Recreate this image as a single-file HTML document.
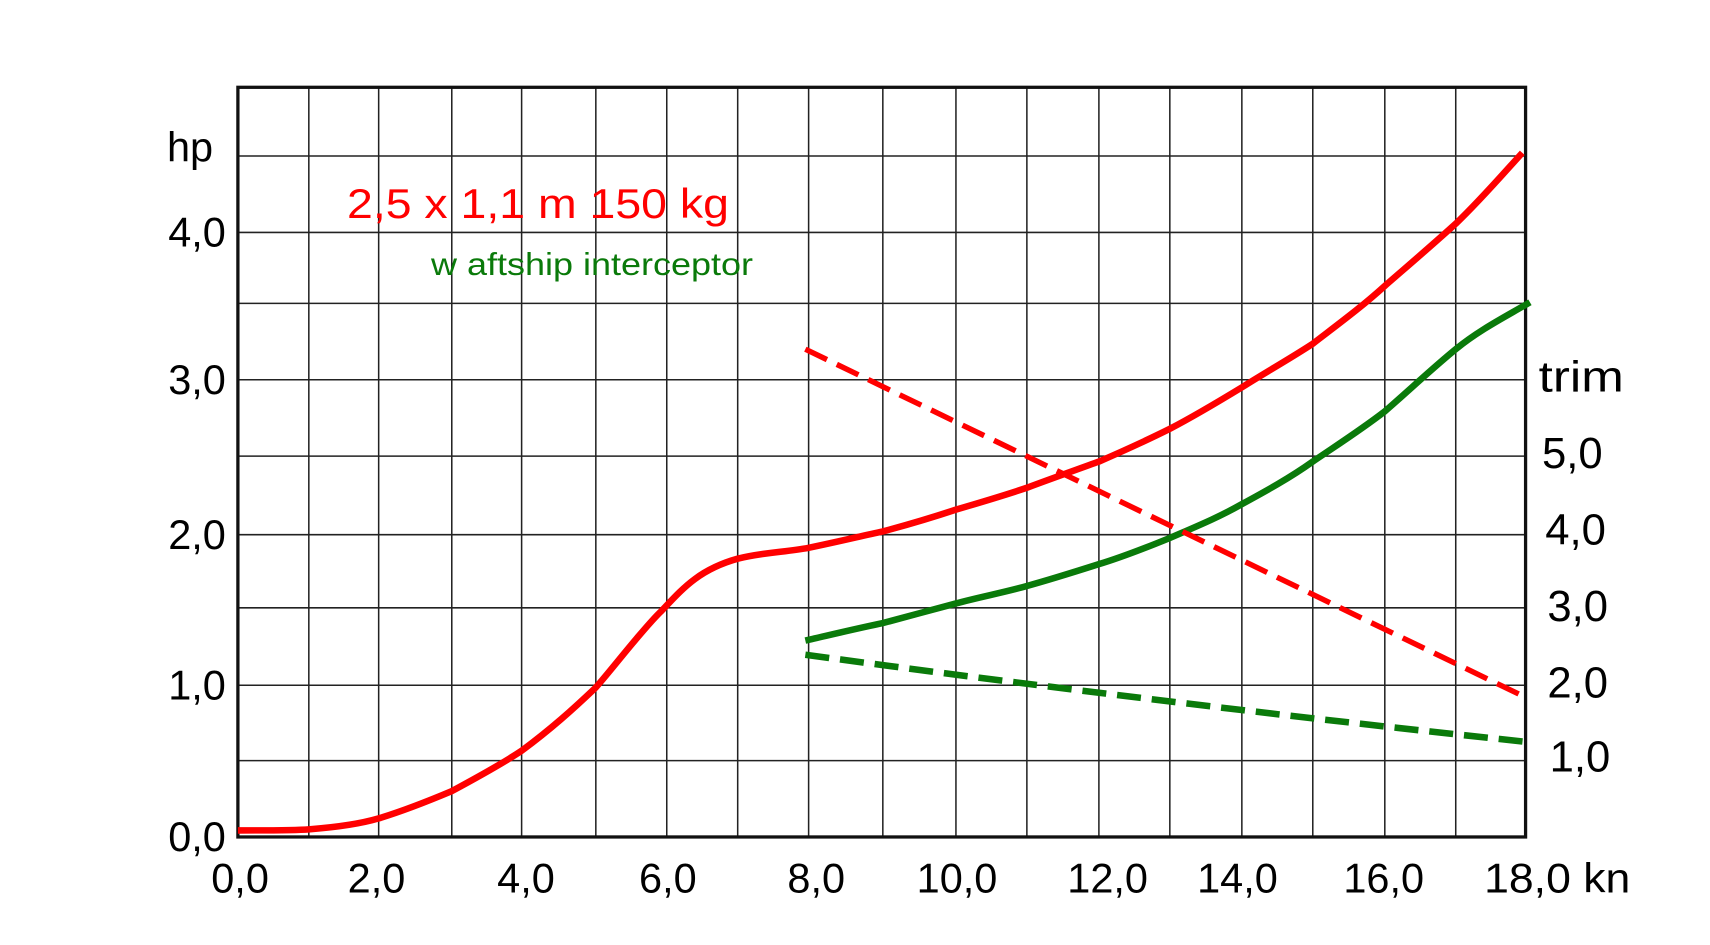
<!DOCTYPE html>
<html><head><meta charset="utf-8"><style>
html,body{margin:0;padding:0;background:#fff;}
svg{display:block}
text{font-family:"Liberation Sans",sans-serif;}
</style></head><body>
<svg width="1710" height="945" viewBox="0 0 1567 866" preserveAspectRatio="none">
<rect width="1567" height="866" fill="#fff"/>
<g stroke="#222" stroke-width="1.4">
<line x1="283" y1="80" x2="283" y2="767"/><line x1="347" y1="80" x2="347" y2="767"/>
<line x1="414" y1="80" x2="414" y2="767"/><line x1="478" y1="80" x2="478" y2="767"/>
<line x1="546" y1="80" x2="546" y2="767"/><line x1="611" y1="80" x2="611" y2="767"/>
<line x1="676" y1="80" x2="676" y2="767"/><line x1="741" y1="80" x2="741" y2="767"/>
<line x1="809" y1="80" x2="809" y2="767"/><line x1="876" y1="80" x2="876" y2="767"/>
<line x1="941" y1="80" x2="941" y2="767"/><line x1="1007" y1="80" x2="1007" y2="767"/>
<line x1="1072" y1="80" x2="1072" y2="767"/><line x1="1138" y1="80" x2="1138" y2="767"/>
<line x1="1203" y1="80" x2="1203" y2="767"/><line x1="1269" y1="80" x2="1269" y2="767"/>
<line x1="1334" y1="80" x2="1334" y2="767"/>
<line x1="218" y1="143" x2="1398" y2="143"/><line x1="218" y1="213" x2="1398" y2="213"/>
<line x1="218" y1="278" x2="1398" y2="278"/><line x1="218" y1="348" x2="1398" y2="348"/>
<line x1="218" y1="418" x2="1398" y2="418"/><line x1="218" y1="490" x2="1398" y2="490"/>
<line x1="218" y1="557" x2="1398" y2="557"/><line x1="218" y1="628" x2="1398" y2="628"/>
<line x1="218" y1="697" x2="1398" y2="697"/>
</g>
<rect x="218" y="80" width="1180" height="687" fill="none" stroke="#111" stroke-width="3"/>
<path d="M218,761 C250,761 270,761 283,760 C310,758 330,755 347,750 C370,743 395,733 414,725 C440,711 460,700 478,688 C505,668 525,650 546,630 C562,612 590,575 606,560 C625,540 640,522 676,512 C700,506 720,506 741,502 C770,496 790,491 809,487 C835,480 855,474 876,467 C900,460 920,454 941,447 C965,438 985,431 1007,423 C1030,413 1050,404 1072,393 C1095,381 1115,369 1138,355 C1160,341 1180,330 1203,315 C1225,298 1247,282 1269,262 C1292,242 1312,225 1334,205 C1356,184 1375,162 1395,140" fill="none" stroke="#f00" stroke-width="6"/>
<path d="M738,587 C760,582 785,576 809,571 C832,565 853,559 876,553 C898,547 920,543 941,537 C963,531 985,524 1007,517 C1030,510 1050,502 1072,493 C1095,483 1117,474 1138,462 C1160,450 1182,438 1203,423 C1225,408 1247,394 1269,377 C1292,357 1312,338 1334,320 C1356,302 1380,290 1402,277" fill="none" stroke="#0a7a0a" stroke-width="6"/>
<line x1="738" y1="320" x2="1400" y2="640" stroke="#f00" stroke-width="5" stroke-dasharray="22,10"/>
<path d="M738,600 Q1070,645 1400,680" fill="none" stroke="#0a7a0a" stroke-width="6" stroke-dasharray="22,10"/>
<g font-size="38" fill="#000">
<text x="153" y="148">hp</text>
<text x="207" y="226" text-anchor="end">4,0</text>
<text x="207" y="361" text-anchor="end">3,0</text>
<text x="207" y="503" text-anchor="end">2,0</text>
<text x="207" y="641" text-anchor="end">1,0</text>
<text x="207" y="780" text-anchor="end">0,0</text>
<text x="220" y="818" text-anchor="middle">0,0</text>
<text x="345" y="818" text-anchor="middle">2,0</text>
<text x="482" y="818" text-anchor="middle">4,0</text>
<text x="612" y="818" text-anchor="middle">6,0</text>
<text x="748" y="818" text-anchor="middle">8,0</text>
<text x="877" y="818" text-anchor="middle">10,0</text>
<text x="1015" y="818" text-anchor="middle">12,0</text>
<text x="1134" y="818" text-anchor="middle">14,0</text>
<text x="1268" y="818" text-anchor="middle">16,0</text>
<text x="1360" y="818" textLength="134" lengthAdjust="spacingAndGlyphs">18,0 kn</text>
</g>
<g font-size="40" fill="#000">
<text x="1410" y="359" textLength="78" lengthAdjust="spacingAndGlyphs">trim</text>
<text x="1413" y="429">5,0</text>
<text x="1416" y="499">4,0</text>
<text x="1418" y="569">3,0</text>
<text x="1418" y="639">2,0</text>
<text x="1420" y="707">1,0</text>
</g>
<text x="318" y="200" font-size="38" fill="#f00" textLength="350" lengthAdjust="spacingAndGlyphs">2,5 x 1,1 m  150 kg</text>
<text x="395" y="252" font-size="29" fill="#0a7a0a" textLength="295" lengthAdjust="spacingAndGlyphs">w aftship interceptor</text>
</svg>
</body></html>
